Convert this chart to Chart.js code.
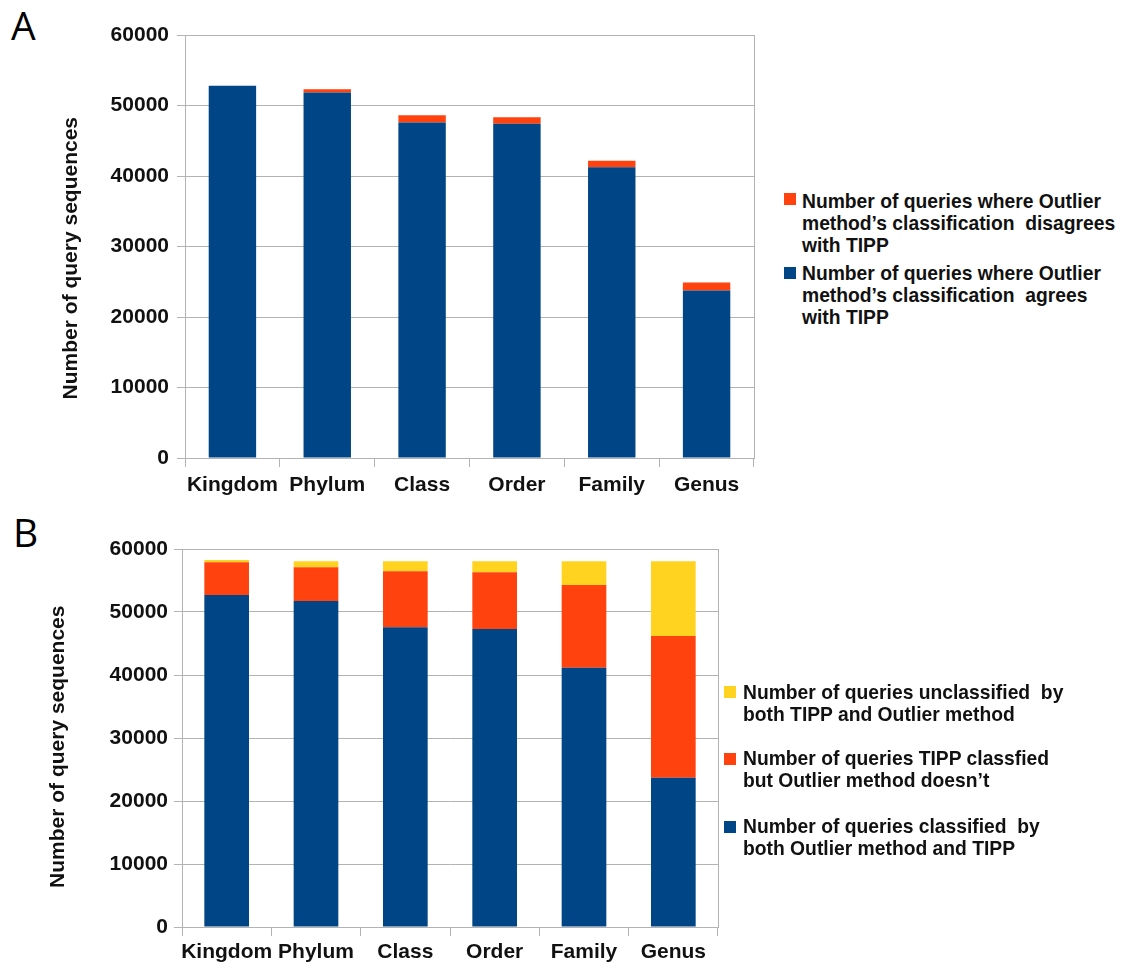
<!DOCTYPE html>
<html lang="en">
<head>
  <meta charset="UTF-8">
  <title>Outlier method vs TIPP</title>
  <script src="https://cdn.jsdelivr.net/npm/chart.js"></script>
  <style>
    body { margin: 0; background: #fff; font-family: "Liberation Sans", Arial, sans-serif; }
    #page { position: relative; width: 1129px; height: 966px; overflow: hidden; }
    .panel { position: absolute; font-family: "Open Sans", sans-serif; font-size: 39px; line-height: 1; color: #000; }
    .legend { position: absolute; font-weight: bold; font-size: 19.3px; line-height: 22px; color: #111; white-space: pre; }
    .swatch { position: absolute; width: 12px; height: 12px; }
    #wrapA { position: absolute; left: 0; top: 0; width: 770px; height: 505px; }
    #wrapB { position: absolute; left: 0; top: 500px; width: 730px; height: 466px; }
  </style>
</head>
<body>
<div id="page">
  <div class="panel" style="left:11px; top:5px;">A</div>
  <div class="panel" style="left:13px; top:512px;">B</div>

  <div id="wrapA"><canvas id="chartA"></canvas></div>
  <div id="wrapB"><canvas id="chartB"></canvas></div>

  <!-- legend A -->
  <div class="swatch" style="left:784px; top:193px; background:#ff420e;"></div>
  <div class="legend" style="left:802px; top:191px;">Number of queries where Outlier
method’s classification  disagrees
with TIPP</div>
  <div class="swatch" style="left:784px; top:267px; background:#004586;"></div>
  <div class="legend" style="left:802px; top:263px;">Number of queries where Outlier
method’s classification  agrees
with TIPP</div>

  <!-- legend B -->
  <div class="swatch" style="left:724px; top:686px; background:#ffd320;"></div>
  <div class="legend" style="left:743px; top:682px;">Number of queries unclassified  by
both TIPP and Outlier method</div>
  <div class="swatch" style="left:724px; top:753px; background:#ff420e;"></div>
  <div class="legend" style="left:743px; top:748px;">Number of queries TIPP classfied
but Outlier method doesn’t</div>
  <div class="swatch" style="left:724px; top:821px; background:#004586;"></div>
  <div class="legend" style="left:743px; top:816px;">Number of queries classified  by
both Outlier method and TIPP</div>
</div>

<script>
  const categories = ['Kingdom', 'Phylum', 'Class', 'Order', 'Family', 'Genus'];
  const yTicks = [0, 10000, 20000, 30000, 40000, 50000, 60000];

  // panel A
  const agrees = [52800, 51850, 47600, 47400, 41250, 23750];
  const disagrees = [0, 450, 1000, 950, 900, 1150];

  // panel B
  const classifiedBoth = [52700, 51750, 47570, 47300, 41160, 23700];
  const tippOnly = [5180, 5340, 8890, 9000, 13130, 22490];
  const unclassifiedBoth = [370, 960, 1590, 1750, 3760, 11860];

  const BLUE = '#004586', RED = '#ff420e', YELLOW = '#ffd320';
  const GRID = '#b3b3b3';
  const tickFont = { family: 'Liberation Sans', size: 21, weight: 'bold' };

  const frame = {
    id: 'frame',
    afterDraw(chart) {
      const a = chart.chartArea, ctx = chart.ctx;
      ctx.save();
      ctx.strokeStyle = GRID;
      ctx.lineWidth = 1;
      ctx.strokeRect(Math.round(a.left) + 0.5, Math.round(a.top) + 0.5, Math.round(a.right - a.left), Math.round(a.bottom - a.top));
      ctx.restore();
    }
  };

  function makeChart(id, datasets, opt) {
    return new Chart(document.getElementById(id), {
      type: 'bar',
      data: { labels: categories, datasets },
      plugins: [frame],
      options: {
        responsive: true,
        maintainAspectRatio: false,
        animation: false,
        layout: { padding: { left: 0, top: opt.top, right: opt.right, bottom: 0 } },
        plugins: { legend: { display: false }, tooltip: { enabled: false } },
        datasets: { bar: { barPercentage: 0.5, categoryPercentage: 1, borderWidth: 0 } },
        scales: {
          x: {
            stacked: true,
            afterFit(s) { s.height = opt.xHeight; },
            grid: { offset: true, drawOnChartArea: false, drawTicks: true, tickLength: 9, color: GRID },
            border: { color: GRID },
            ticks: { color: '#111', font: tickFont, padding: opt.xPad, maxRotation: 0, autoSkip: false }
          },
          y: {
            stacked: true,
            min: 0, max: 60000,
            afterFit(s) { s.width = opt.yWidth; },
            afterBuildTicks(s) { s.ticks = yTicks.map(v => ({ value: v })); },
            grid: { color: GRID, drawTicks: true, tickLength: 8 },
            border: { color: GRID },
            ticks: { color: '#111', font: tickFont, padding: opt.yPad, callback: v => String(v) },
            title: {
              display: true,
              text: opt.title,
              color: '#111',
              font: { family: 'Liberation Sans', size: 21, weight: 'bold' },
              padding: { top: opt.titlePad, bottom: 0 }
            }
          }
        }
      }
    });
  }

  makeChart('chartA', [
    { label: 'Number of queries where Outlier method’s classification agrees with TIPP', data: agrees, backgroundColor: BLUE },
    { label: 'Number of queries where Outlier method’s classification disagrees with TIPP', data: disagrees, backgroundColor: RED }
  ], { top: 35, right: 16, xHeight: 47, yWidth: 185, xPad: 6, yPad: 8, titlePad: 59, title: 'Number of query sequences    ' });

  makeChart('chartB', [
    { label: 'Number of queries classified by both Outlier method and TIPP', data: classifiedBoth, backgroundColor: BLUE },
    { label: 'Number of queries TIPP classfied but Outlier method doesn’t', data: tippOnly, backgroundColor: RED },
    { label: 'Number of queries unclassified by both TIPP and Outlier method', data: unclassifiedBoth, backgroundColor: YELLOW }
  ], { top: 49, right: 12, xHeight: 39, yWidth: 182, xPad: 4, yPad: 6, titlePad: 46, title: 'Number of query sequences   ' });
</script>
</body>
</html>
